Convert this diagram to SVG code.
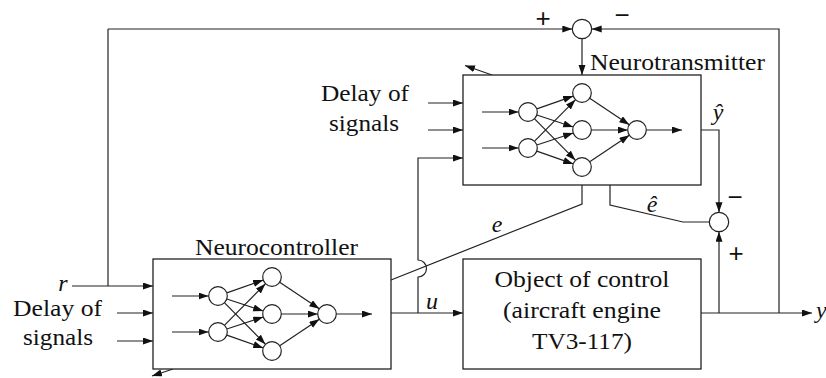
<svg xmlns="http://www.w3.org/2000/svg" xmlns:xlink="http://www.w3.org/1999/xlink" width="826" height="378" viewBox="0 0 826 378">
<style>
.box{fill:#fff;stroke:#222;stroke-width:1.3}
.ln{fill:none;stroke:#222;stroke-width:1.2}
.ar{marker-end:url(#ah)}
.nd{fill:#fff;stroke:#222;stroke-width:1.2}
.t{font-family:'Liberation Serif',serif;font-size:24px;fill:#111}
.i{font-family:'Liberation Serif',serif;font-size:24px;font-style:italic;fill:#111}
.s{font-family:'Liberation Sans',sans-serif;font-size:26px;fill:#111;text-anchor:middle}
</style>
<defs>
<marker id="ah" markerUnits="userSpaceOnUse" markerWidth="11" markerHeight="8" refX="10" refY="3.5" orient="auto">
<path d="M0,0 L10,3.5 L0,7 z" fill="#111"/>
</marker>
<g id="net">
<line class="ln ar" x1="482" y1="112" x2="518.5" y2="112"/>
<line class="ln ar" x1="482" y1="148" x2="518.5" y2="148"/>
<line class="ln ar" x1="536.8" y1="108.9" x2="573.2" y2="96.1"/>
<line class="ln ar" x1="536.8" y1="115" x2="573.2" y2="127"/>
<line class="ln ar" x1="534.6" y1="118.8" x2="575.4" y2="160.2"/>
<line class="ln ar" x1="534.6" y1="141.2" x2="575.4" y2="99.8"/>
<line class="ln ar" x1="536.8" y1="145" x2="573.2" y2="133"/>
<line class="ln ar" x1="536.8" y1="151.1" x2="573.2" y2="163.9"/>
<line class="ln ar" x1="589.7" y1="98.2" x2="629.3" y2="124.8"/>
<line class="ln ar" x1="591.3" y1="130" x2="627.7" y2="130"/>
<line class="ln ar" x1="589.7" y1="161.8" x2="629.3" y2="135.2"/>
<line class="ln ar" x1="646.3" y1="130" x2="682" y2="130"/>
<circle class="nd" cx="528" cy="112" r="9.3"/>
<circle class="nd" cx="528" cy="148" r="9.3"/>
<circle class="nd" cx="582" cy="93" r="9.3"/>
<circle class="nd" cx="582" cy="130" r="9.3"/>
<circle class="nd" cx="582" cy="167" r="9.3"/>
<circle class="nd" cx="637" cy="130" r="9.3"/>
</g>
</defs>
<rect width="826" height="378" fill="#fff"/>

<g id="connectors">
<path class="ln" d="M108,286 V29"/>
<path class="ln ar" d="M108,29 H572.3"/>
<path class="ln ar" d="M779,313 V29 H591.7"/>
<path class="ln ar" d="M582,38.7 V75"/>
<path class="ln ar" d="M72,286 H153"/>
<path class="ln ar" d="M117,313 H153"/>
<path class="ln ar" d="M117,341 H153"/>
<path class="ln ar" d="M428,103 H463"/>
<path class="ln ar" d="M428,130 H463"/>
<path class="ln ar" d="M418,313 V277 A8.5,8.5 0 0 0 418,260 V158 H463"/>
<path class="ln ar" d="M391,313 H463"/>
<path class="ln" d="M582,185 V204 L391,280"/>
<path class="ln" d="M610,185 V205 L683,222 H709.5"/>
<path class="ln ar" d="M701,130 H719 V212.3"/>
<path class="ln ar" d="M719,313 V231.7"/>
<path class="ln ar" d="M701,313 H812"/>
<path class="ln ar" d="M492,75 L465,65.5"/>
<path class="ln ar" d="M173,369 L152,376"/>
</g>

<g id="sum-top">
<circle class="nd" cx="582" cy="29" r="9.7"/>
<text class="s" x="543" y="27">+</text>
<text class="s" x="622" y="24">−</text>
</g>

<g id="sum-right">
<circle class="nd" cx="719" cy="222" r="9.7"/>
<text class="s" x="735" y="206">−</text>
<text class="s" x="736" y="262">+</text>
</g>

<g id="neurotransmitter">
<rect class="box" x="463" y="75" width="238" height="110"/>
<use xlink:href="#net"/>
<text class="t" x="590" y="70" textLength="175" lengthAdjust="spacingAndGlyphs">Neurotransmitter</text>
</g>

<g id="neurocontroller">
<rect class="box" x="153" y="259" width="238" height="110"/>
<use xlink:href="#net" transform="translate(-310,184)"/>
<text class="t" x="195" y="255" textLength="163" lengthAdjust="spacingAndGlyphs">Neurocontroller</text>
</g>

<g id="object">
<rect class="box" x="463" y="259" width="238" height="110"/>
<text class="t" x="494.5" y="287" textLength="175" lengthAdjust="spacingAndGlyphs">Object of control</text>
<text class="t" x="503" y="318" textLength="158" lengthAdjust="spacingAndGlyphs">(aircraft engine</text>
<text class="t" x="532" y="349" textLength="100" lengthAdjust="spacingAndGlyphs">TV3-117)</text>
</g>

<g id="labels">
<text class="t" x="321" y="101" textLength="88" lengthAdjust="spacingAndGlyphs">Delay of</text>
<text class="t" x="329" y="131" textLength="70" lengthAdjust="spacingAndGlyphs">signals</text>
<text class="t" x="13" y="316" textLength="89" lengthAdjust="spacingAndGlyphs">Delay of</text>
<text class="t" x="23" y="345" textLength="70" lengthAdjust="spacingAndGlyphs">signals</text>
<text class="i" x="63" y="291" text-anchor="middle">r</text>
<text class="i" x="432" y="309" text-anchor="middle">u</text>
<text class="i" x="497" y="232" text-anchor="middle">e</text>
<text class="i" x="652" y="212" text-anchor="middle">ê</text>
<text class="i" x="718" y="120" text-anchor="middle">ŷ</text>
<text class="i" x="816" y="318">y</text>
</g>
</svg>
